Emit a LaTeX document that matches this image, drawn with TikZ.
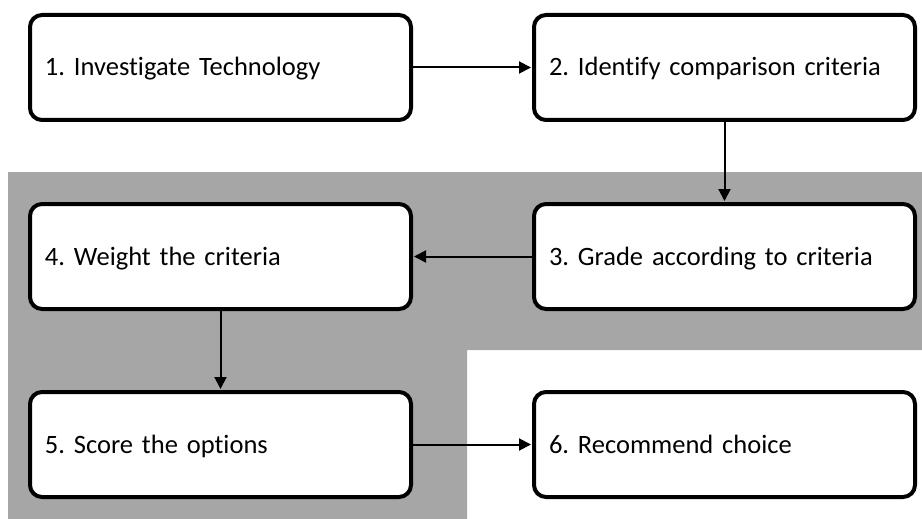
\documentclass[tikz,border=0pt]{standalone}
\usepackage{fontspec}
\setmainfont{Carlito}[Ligatures={NoCommon}]
\usetikzlibrary{arrows.meta}
\definecolor{panelgray}{HTML}{A6A6A6}
\frenchspacing
\begin{document}
\begin{tikzpicture}[x=1pt,y=-1pt,
  stepbox/.style={draw=black, line width=4pt, fill=white, rounded corners=12pt,
    minimum width=381pt, minimum height=105pt, inner xsep=15pt, inner ysep=0pt,
    text width=351pt, align=left, font=\fontsize{26.5}{30}\selectfont,
    text height=17pt, text depth=0pt},
  flow/.style={line width=2pt, -{Triangle[length=12pt,width=12pt]}, shorten >=1pt}]
  \useasboundingbox (0,0) rectangle (922,519);
  % grey backdrop behind steps 3 to 5
  \fill[panelgray] (8,172) -- (922,172) -- (922,350) -- (467,350) -- (467,519) -- (8,519) -- cycle;
  % process steps
  \node[stepbox] (s1) at (220.5,67.5) {1. Investigate Technology};
  \node[stepbox] (s2) at (724.5,67.5) {2. Identify comparison criteria};
  \node[stepbox] (s3) at (724.5,256.5) {3. Grade according to criteria};
  \node[stepbox] (s4) at (220.5,256.5) {4. Weight the criteria};
  \node[stepbox] (s5) at (220.5,444.5) {5. Score the options};
  \node[stepbox] (s6) at (724.5,444.5) {6. Recommend choice};
  % connectors
  \draw[flow] (s1.east) -- (s2.west);
  \draw[flow] (s2.south) -- (s3.north);
  \draw[flow] (s3.west) -- (s4.east);
  \draw[flow] (s4.south) -- (s5.north);
  \draw[flow] (s5.east) -- (s6.west);
\end{tikzpicture}
\end{document}
